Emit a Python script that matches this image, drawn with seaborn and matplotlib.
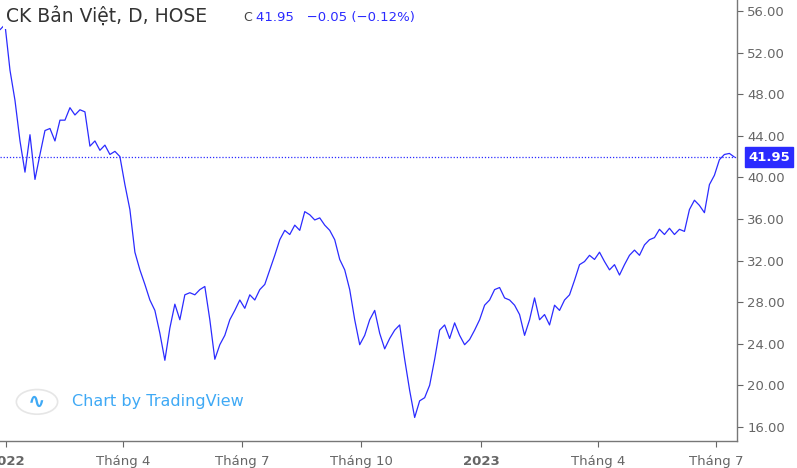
import pandas as pd
import matplotlib.pyplot as plt
from matplotlib.patches import Circle
import seaborn as sns

# closing prices, every 4 days
prices = [54.2, 54.7, 50.3, 47.4, 43.5, 40.5, 44.1, 39.8, 42.2, 44.5, 44.7, 43.5, 45.5, 45.5, 46.7,
          46.0, 46.5, 46.3, 43.0, 43.5, 42.6, 43.1, 42.2, 42.5, 42.0, 39.3, 36.9, 32.8, 31.1, 29.7,
          28.2, 27.2, 25.0, 22.4, 25.5, 27.8, 26.3, 28.7, 28.9, 28.7, 29.2, 29.5, 26.3, 22.5, 23.9,
          24.8, 26.3, 27.2, 28.2, 27.4, 28.7, 28.2, 29.2, 29.7, 31.1, 32.5, 34.0, 34.9, 34.5, 35.4,
          34.9, 36.7, 36.4, 35.9, 36.1, 35.4, 34.9, 34.0, 32.1, 31.1, 29.2, 26.3, 23.9, 24.8, 26.3,
          27.2, 25.0, 23.5, 24.5, 25.3, 25.8, 22.5, 19.5, 16.9, 18.5, 18.8, 20.0, 22.5, 25.3, 25.8,
          24.5, 26.0, 24.8, 23.9, 24.4, 25.3, 26.3, 27.7, 28.2, 29.2, 29.4, 28.4, 28.2, 27.7, 26.8,
          24.8, 26.3, 28.4, 26.3, 26.8, 25.8, 27.7, 27.2, 28.2, 28.7, 30.1, 31.6, 31.9, 32.5, 32.1,
          32.8, 31.9, 31.1, 31.6, 30.6, 31.6, 32.5, 33.0, 32.5, 33.5, 34.0, 34.2, 35.0, 34.5, 35.1,
          34.5, 35.0, 34.8, 36.9, 37.8, 37.3, 36.6, 39.3, 40.2, 41.7, 42.2, 42.3, 41.95]
dates = pd.date_range("2021-12-27", "2023-07-15", periods=len(prices))
last_price = 41.95

y_ticks = [16, 20, 24, 28, 32, 36, 40, 44, 48, 52, 56]
x_tick_dates = ["2022-01-01", "2022-04-01", "2022-07-01", "2022-10-01",
                "2023-01-01", "2023-04-01", "2023-07-01"]
x_tick_labels = ["2022", "Tháng 4", "Tháng 7", "Tháng 10", "2023", "Tháng 4", "Tháng 7"]

df = pd.DataFrame({"date": dates, "close": prices})

sns.set_style("white")
plt.rcParams["font.family"] = ["DejaVu Sans"]
line_color = "#2b2bff"
grey = "#666666"

fig = plt.figure(figsize=(7.97, 4.68), dpi=100)
ax = fig.add_axes([0, 0.058, 737 / 797, 0.942])
sns.lineplot(data=df, x="date", y="close", ax=ax, color=line_color, linewidth=0.9)
ax.axhline(last_price, color=line_color, linestyle=(0, (1, 1.5)), linewidth=0.9)

ax.set_ylim(14.65, 57.06)
ax.set_xlim(pd.Timestamp("2021-12-27"), pd.Timestamp("2023-07-17"))
ax.yaxis.tick_right()
ax.set_yticks(y_ticks)
ax.set_yticklabels([f"{v:.2f}" for v in y_ticks])
ax.set_xticks(pd.to_datetime(x_tick_dates))
ax.set_xticklabels(x_tick_labels)
for lbl in ax.get_xticklabels():
    if lbl.get_text() in ("2022", "2023"):
        lbl.set_fontweight("bold")
ax.tick_params(axis="both", colors=grey, labelsize=9.5, length=4, width=0.8,
               bottom=True, right=True, left=False)
ax.tick_params(axis="x", pad=6)
ax.set_xlabel("")
ax.set_ylabel("")
for side in ("top", "left"):
    ax.spines[side].set_visible(False)
for side in ("right", "bottom"):
    ax.spines[side].set_color("#777777")
    ax.spines[side].set_linewidth(1)

# last price box
ax.annotate(f"{last_price:.2f}", xy=(1.0, last_price), xycoords=("axes fraction", "data"),
            xytext=(8, 0), textcoords="offset points", va="center", ha="left",
            color="white", fontsize=9.5, fontweight="bold",
            bbox=dict(boxstyle="square,pad=0.25", fc=line_color, ec=line_color))

# header
ax.text(0.008, 0.985, "CK Bản Việt, D, HOSE", transform=ax.transAxes, fontsize=13.5,
        color="#333333", va="top", ha="left",
        bbox=dict(boxstyle="square,pad=0.15", fc="white", ec="none"))
ax.text(0.33, 0.975, "C", transform=ax.transAxes, fontsize=9, color="#444444", va="top")
ax.text(0.347, 0.975, "41.95   \u22120.05 (\u22120.12%)", transform=ax.transAxes,
        fontsize=9.5, color=line_color, va="top")

# watermark
ax.add_patch(Circle((37 / 737, 1 - 402 / 441), 0.028, transform=ax.transAxes,
                    fc="white", ec="#e6e6e6", lw=1.2, zorder=5))
ax.text(37 / 737, 1 - 402 / 441, "\u223f", transform=ax.transAxes, fontsize=15,
        color="#3fa9f5", ha="center", va="center", fontweight="bold", zorder=6)
ax.text(72 / 737, 1 - 402 / 441, "Chart by TradingView", transform=ax.transAxes,
        fontsize=11.5, color="#3fa9f5", va="center", ha="left")

fig.savefig("out.png", dpi=100, facecolor="white")
